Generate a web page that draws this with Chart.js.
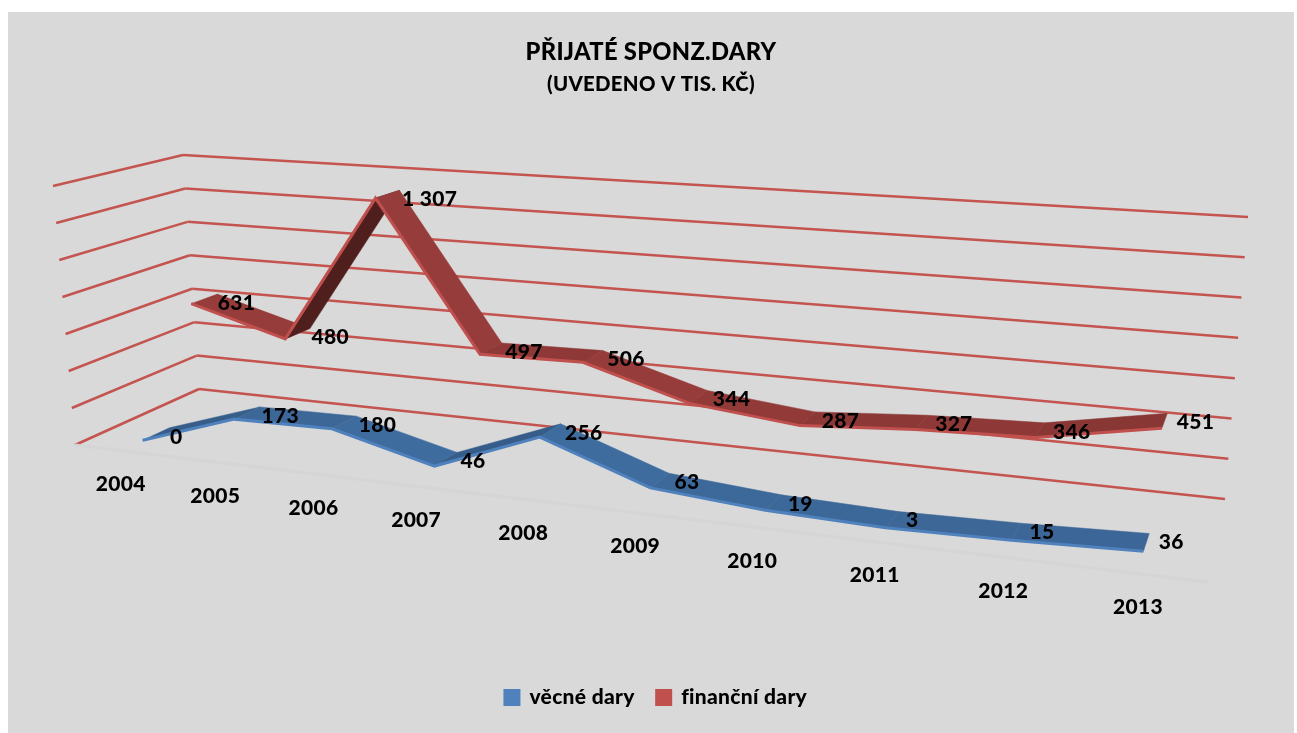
<!DOCTYPE html>
<html>
<head>
<meta charset="utf-8">
<title>Přijaté sponz.dary</title>
<script src="https://cdn.jsdelivr.net/npm/chart.js@4/dist/chart.umd.min.js"></script>
<style>
    html, body { margin: 0; background: #fff; overflow: hidden; }
    #panel { position: absolute; left: 8px; top: 12px; width: 1286px; height: 721px; background: #d9d9d9; }
    #chart { position: absolute; left: 0; top: 0; }
</style>
</head>
<body>
<div id="panel"></div>
<canvas id="chart" width="1297" height="733"></canvas>
<script>
const years = ["2004", "2005", "2006", "2007", "2008", "2009", "2010", "2011", "2012", "2013"];
const vecneDary = [0, 173, 180, 46, 256, 63, 19, 3, 15, 36];
const financniDary = [631, 480, 1307, 497, 506, 344, 287, 327, 346, 451];
const valueTicks = [0, 200, 400, 600, 800, 1000, 1200, 1400];

// corners of the 3D box on screen: f = front, b = back, l/r = left/right, 0/1 = floor/top
const box = {
    fl0: [75, 445], fl1: [53, 186], fr0: [1208, 582], fr1: [1233, 270],
    bl0: [199, 389], bl1: [183, 155], br0: [1225, 499], br1: [1248, 217]
};
const perspective = 1.25;
const depths = [[0.18, 0.40], [0.64, 0.85]];
const faceColors = [[63, 108, 159], [150, 60, 58]];

function mix(a, b, t) {
    return [a[0] + (b[0] - a[0]) * t, a[1] + (b[1] - a[1]) * t];
}

// u along the years, v up the values, z into the depth (all 0..1)
function project(u, v, z) {
    const k = perspective - 0.06 * z;
    const t = u / (u + k * (1 - u));
    const bottom = mix(mix(box.fl0, box.fr0, t), mix(box.bl0, box.br0, t), z);
    const top = mix(mix(box.fl1, box.fr1, t), mix(box.bl1, box.br1, t), z);
    return mix(bottom, top, v);
}

function toU(chart, index) {
    const area = chart.chartArea;
    return (chart.scales.x.getPixelForValue(index) - area.left) / area.width;
}

function toV(chart, value) {
    const area = chart.chartArea;
    return (area.bottom - chart.scales.y.getPixelForValue(value)) / area.height;
}

function line(ctx, a, b) {
    ctx.beginPath();
    ctx.moveTo(a[0], a[1]);
    ctx.lineTo(b[0], b[1]);
    ctx.stroke();
}

const perspectivePlugin = {
    id: "perspective",

    // letter spacing also stops the "fi" ligature, the original has none
    beforeUpdate(chart) {
        chart.ctx.letterSpacing = "0.3px";
    },

    // the legend sits a little right of the title in the original
    afterLayout(chart) {
        chart.legend.left += 5;
        chart.legend.right += 5;
    },

    // move the line points onto the front edge of each ribbon
    afterDatasetsUpdate(chart) {
        chart.data.datasets.forEach((ds, d) => {
            chart.getDatasetMeta(d).data.forEach((pt, i) => {
                const p = project(toU(chart, i), toV(chart, ds.data[i]), depths[d][0]);
                pt.x = p[0];
                pt.y = p[1];
            });
        });
    },

    beforeDatasetsDraw(chart) {
        const ctx = chart.ctx;
        ctx.save();

        // walls
        ctx.strokeStyle = "#c4544f";
        ctx.lineWidth = 2.5;
        valueTicks.forEach(tick => {
            const v = toV(chart, tick);
            const corner = project(0, v, 1);
            line(ctx, project(0, v, 0), corner);
            line(ctx, corner, project(1, v, 1));
        });

        // floor edge
        ctx.strokeStyle = "#d5d5d5";
        ctx.lineWidth = 3;
        line(ctx, project(0, 0, 0), project(1, 0, 0));

        // ribbons, back one first
        for (let d = chart.data.datasets.length - 1; d >= 0; d--) {
            const values = chart.data.datasets[d].data;
            for (let i = 0; i < values.length - 1; i++) {
                const v0 = toV(chart, values[i]);
                const v1 = toV(chart, values[i + 1]);
                const u0 = toU(chart, i);
                const u1 = toU(chart, i + 1);
                const a = project(u0, v0, depths[d][0]);
                const b = project(u1, v1, depths[d][0]);
                const c = project(u1, v1, depths[d][1]);
                const e = project(u0, v0, depths[d][1]);

                // rising segments turn away from the light
                const slope = (b[1] - a[1]) / (b[0] - a[0]);
                const shade = Math.min(1, slope < 0 ? 0.93 + 0.26 * slope : 0.93 + 0.2 * slope);
                const rgb = faceColors[d].map(c => Math.round(c * shade));
                ctx.fillStyle = `rgb(${rgb[0]},${rgb[1]},${rgb[2]})`;
                ctx.strokeStyle = ctx.fillStyle;
                ctx.lineWidth = 0.5;
                ctx.beginPath();
                ctx.moveTo(a[0], a[1]);
                ctx.lineTo(b[0], b[1]);
                ctx.lineTo(c[0], c[1]);
                ctx.lineTo(e[0], e[1]);
                ctx.closePath();
                ctx.fill();
                ctx.stroke();
            }
        }
        ctx.restore();
    },

    afterDatasetsDraw(chart) {
        const ctx = chart.ctx;
        ctx.save();
        ctx.fillStyle = "#000";
        ctx.font = "900 21px Lato";
        ctx.textBaseline = "middle";

        // year labels under the floor edge
        ctx.textAlign = "center";
        years.forEach((year, i) => {
            const p = project(toU(chart, i), 0, 0);
            ctx.fillText(year, p[0], p[1] + 34);
        });

        // value labels
        ctx.textAlign = "left";
        chart.data.datasets.forEach((ds, d) => {
            ds.data.forEach((value, i) => {
                const u = toU(chart, i);
                const p = project(u, toV(chart, value), depths[d][1]);
                const text = String(value).replace(/\B(?=(\d{3})+$)/g, " ");
                ctx.fillText(text, p[0] + 10 * u, p[1] + 9);
            });
        });
        ctx.restore();
    }
};

new Chart(document.getElementById("chart"), {
    type: "line",
    data: {
        labels: years,
        datasets: [
            { label: "věcné dary", data: vecneDary, borderColor: "#4f81bd", backgroundColor: "#4f81bd" },
            { label: "finanční dary", data: financniDary, borderColor: "#c0504d", backgroundColor: "#c0504d" }
        ]
    },
    options: {
        responsive: false,
        animation: false,
        events: [],
        clip: false,
        layout: { padding: { left: 5, top: 38, bottom: 15 } },
        elements: {
            point: { radius: 0 },
            line: { borderWidth: 3, tension: 0 }
        },
        scales: {
            x: { display: false, offset: true },
            y: { display: false, min: 0, max: 1400 }
        },
        plugins: {
            title: {
                display: true,
                text: "PŘIJATÉ SPONZ.DARY",
                color: "#000",
                font: { family: "Lato", size: 23.7, weight: "900" },
                padding: { top: 0, bottom: 6 }
            },
            subtitle: {
                display: true,
                text: "(UVEDENO V TIS. KČ)",
                color: "#000",
                font: { family: "Lato", size: 20.4, weight: "900" },
                padding: { top: 0, bottom: 10 }
            },
            legend: {
                position: "bottom",
                labels: {
                    color: "#000",
                    boxWidth: 14,
                    boxHeight: 14,
                    padding: 22,
                    font: { family: "Lato", size: 21, weight: "900" }
                }
            },
            tooltip: { enabled: false }
        }
    },
    plugins: [perspectivePlugin]
});
</script>
</body>
</html>
